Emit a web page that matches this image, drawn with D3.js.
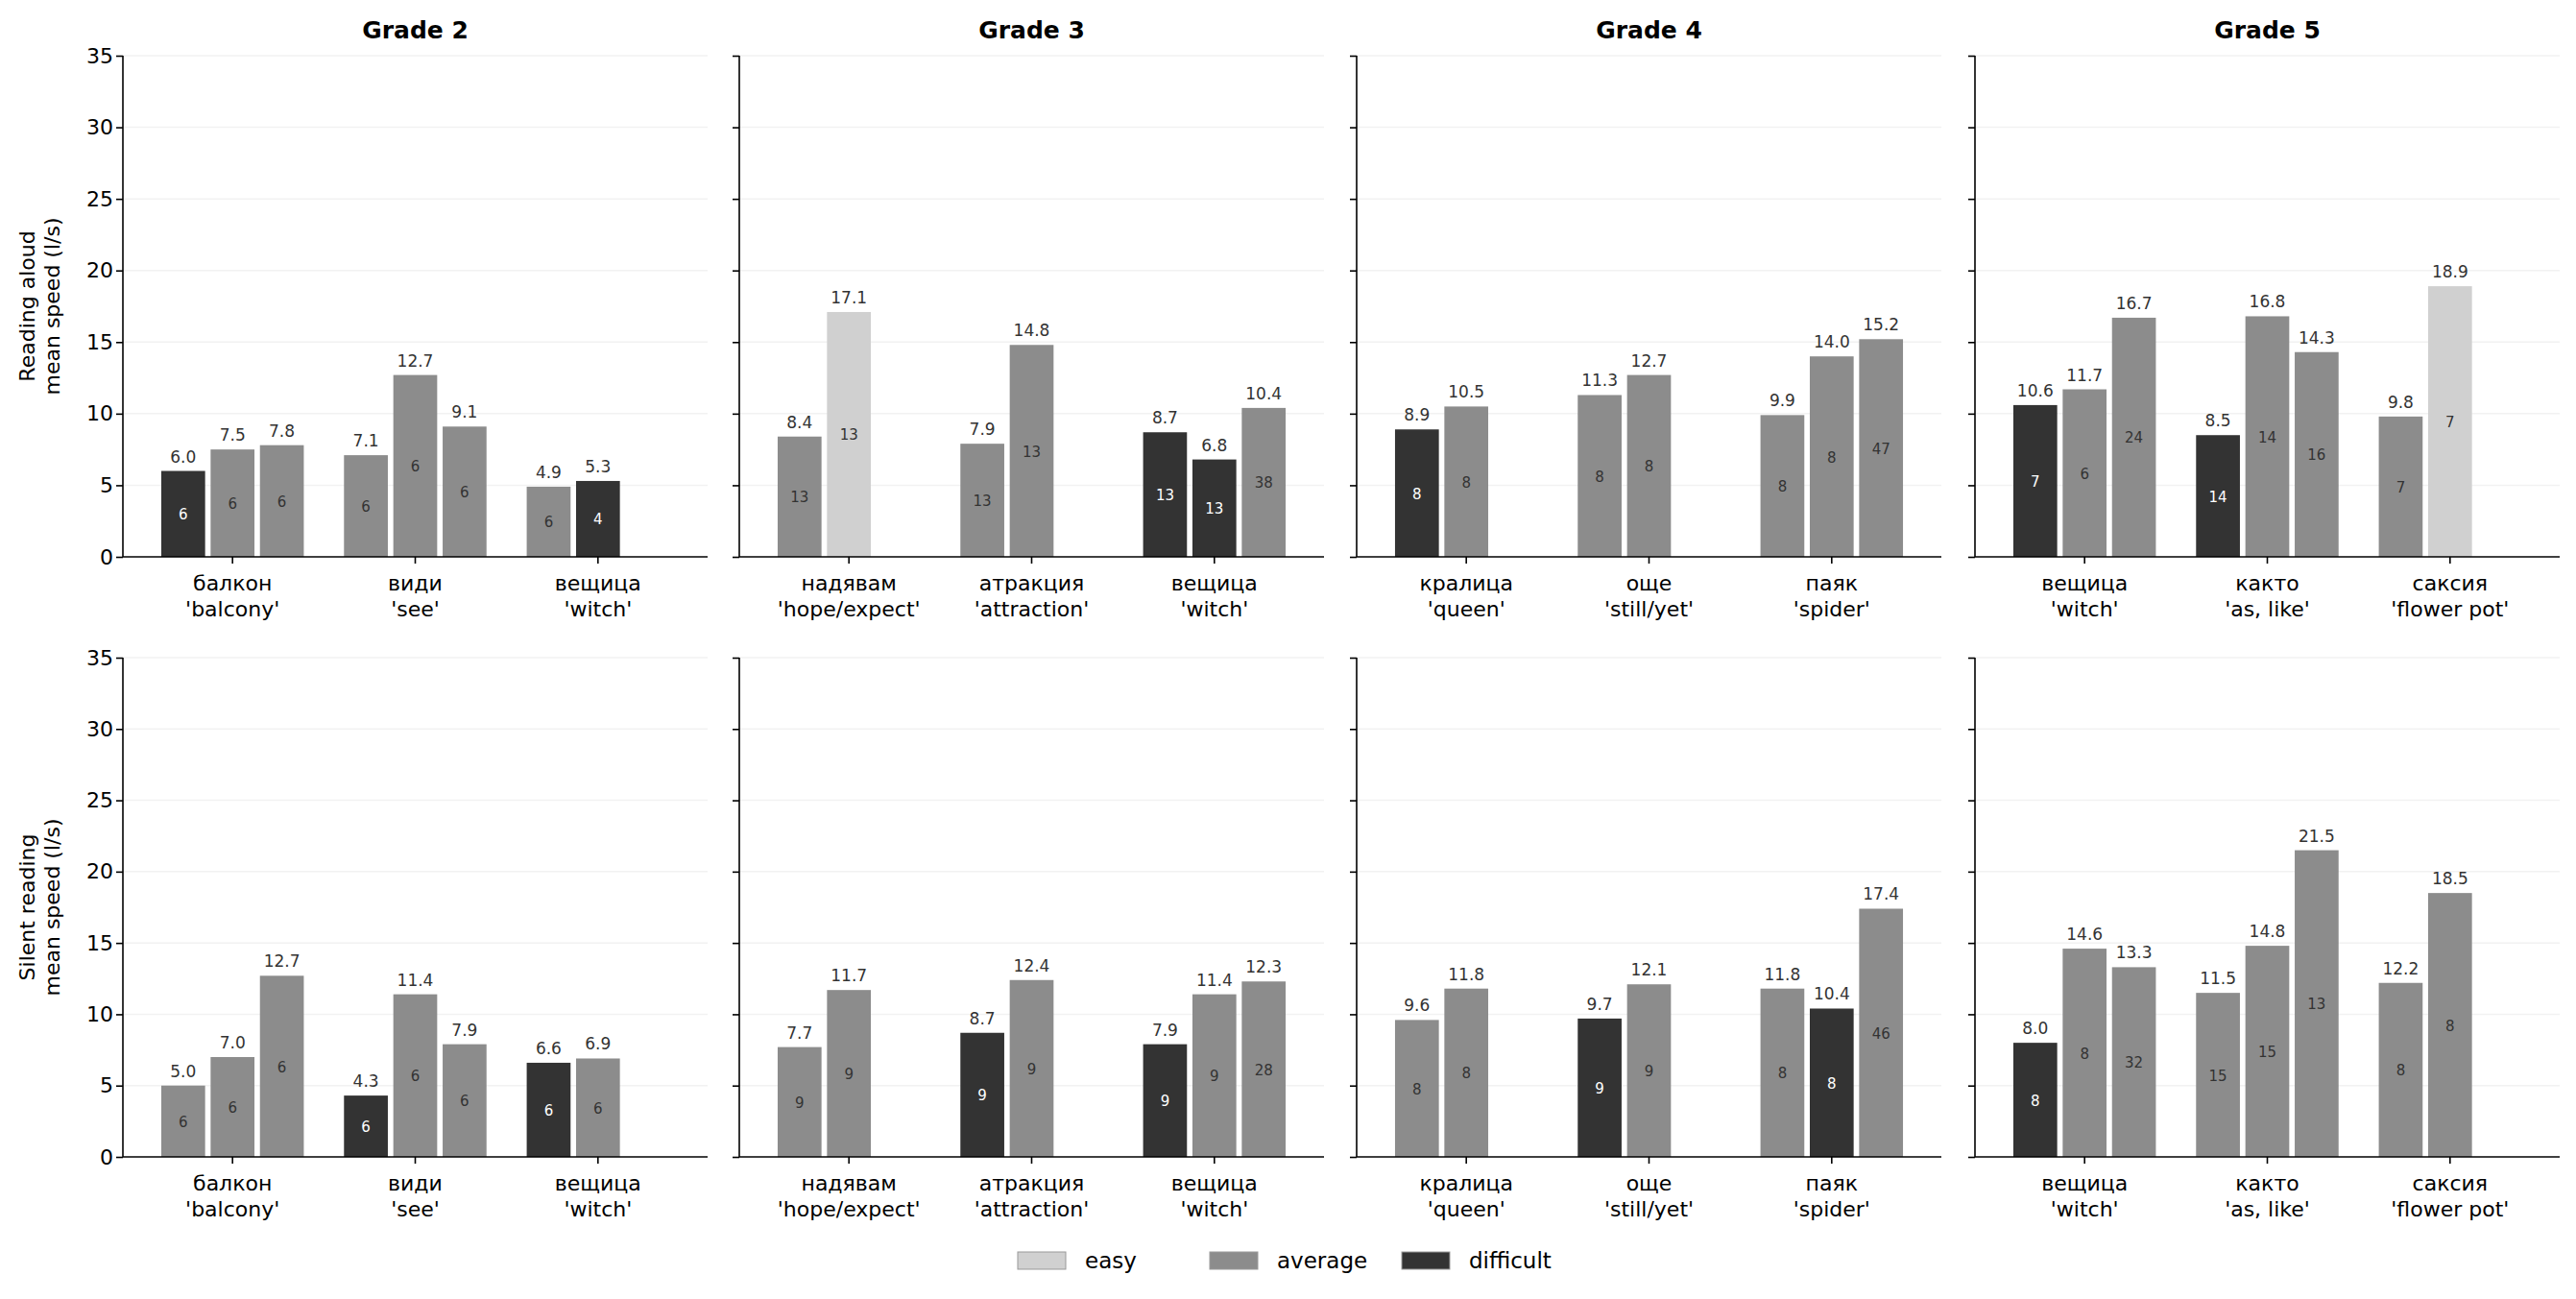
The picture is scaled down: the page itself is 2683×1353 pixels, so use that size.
<!DOCTYPE html>
<html><head><meta charset="utf-8">
<script src="https://cdn.jsdelivr.net/npm/d3@7"></script>
<style>body{margin:0;background:#fff;font-family:"DejaVu Sans",sans-serif;}</style>
</head><body><div id="chart"></div>
<script>
const grades = ["Grade 2", "Grade 3", "Grade 4", "Grade 5"];
const words = [
  ["балкон\n'balcony'", "види\n'see'", "вещица\n'witch'"],
  ["надявам\n'hope/expect'", "атракция\n'attraction'", "вещица\n'witch'"],
  ["кралица\n'queen'", "още\n'still/yet'", "паяк\n'spider'"],
  ["вещица\n'witch'", "както\n'as, like'", "саксия\n'flower pot'"]
];
const rowLabels = [["Reading aloud", "mean speed (l/s)"], ["Silent reading", "mean speed (l/s)"]];
const yTicks = [0, 5, 10, 15, 20, 25, 30, 35];
// [value, level, n] per bar; level: e=easy, a=average, d=difficult
const aloud = [
  [[[6.0,"d",6],[7.5,"a",6],[7.8,"a",6]], [[7.1,"a",6],[12.7,"a",6],[9.1,"a",6]], [[4.9,"a",6],[5.3,"d",4]]],
  [[[8.4,"a",13],[17.1,"e",13]], [[7.9,"a",13],[14.8,"a",13]], [[8.7,"d",13],[6.8,"d",13],[10.4,"a",38]]],
  [[[8.9,"d",8],[10.5,"a",8]], [[11.3,"a",8],[12.7,"a",8]], [[9.9,"a",8],[14.0,"a",8],[15.2,"a",47]]],
  [[[10.6,"d",7],[11.7,"a",6],[16.7,"a",24]], [[8.5,"d",14],[16.8,"a",14],[14.3,"a",16]], [[9.8,"a",7],[18.9,"e",7]]]
];
const silent = [
  [[[5.0,"a",6],[7.0,"a",6],[12.7,"a",6]], [[4.3,"d",6],[11.4,"a",6],[7.9,"a",6]], [[6.6,"d",6],[6.9,"a",6]]],
  [[[7.7,"a",9],[11.7,"a",9]], [[8.7,"d",9],[12.4,"a",9]], [[7.9,"d",9],[11.4,"a",9],[12.3,"a",28]]],
  [[[9.6,"a",8],[11.8,"a",8]], [[9.7,"d",9],[12.1,"a",9]], [[11.8,"a",8],[10.4,"d",8],[17.4,"a",46]]],
  [[[8.0,"d",8],[14.6,"a",8],[13.3,"a",32]], [[11.5,"a",15],[14.8,"a",15],[21.5,"a",13]], [[12.2,"a",8],[18.5,"a",8]]]
];
const levels = ["e", "a", "d"];
const levelNames = ["easy", "average", "difficult"];
const colors = {e: "#d0d0d0", a: "#8c8c8c", d: "#333333"};

const W = 2683, H = 1353;
const svg = d3.select("#chart").append("svg").attr("width", W).attr("height", H);
const panelX = [128, 770, 1413, 2057], panelW = 609;
const rowY = [[58, 580], [685, 1205]];
const y0 = d3.scaleLinear().domain([0, 35]);

[aloud, silent].forEach((rowData, r) => {
  const y = y0.copy().range([rowY[r][1], rowY[r][0]]);
  rowData.forEach((panel, c) => {
    const x = d3.scaleLinear().domain([-0.6, 2.6]).range([panelX[c], panelX[c] + panelW]);
    const g = svg.append("g");
    // faint grid
    g.selectAll(".grid").data(yTicks.slice(1)).enter().append("line")
      .attr("x1", x.range()[0]).attr("x2", x.range()[1])
      .attr("y1", d => y(d)).attr("y2", d => y(d))
      .style("stroke", "#f2f2f2").style("stroke-width", 1.5);
    const bw = x(0.24) - x(0);
    panel.forEach((bars, wi) => {
      bars.forEach((b, bi) => {
        const cx = x(wi + (bi - 1) * 0.27);
        g.append("rect").attr("x", cx - bw / 2).attr("y", y(b[0]))
          .attr("width", bw).attr("height", y(0) - y(b[0])).style("fill", colors[b[1]]);
        g.append("text").attr("x", cx).attr("y", y(b[0]) - 9).attr("text-anchor", "middle")
          .style("font-size", "17px").style("fill", "#333").text(b[0].toFixed(1));
        g.append("text").attr("x", cx).attr("y", (y(b[0]) + y(0)) / 2 + 6).attr("text-anchor", "middle")
          .style("font-size", "15px").style("fill", b[1] === "d" ? "#fff" : "#333").text(b[2]);
      });
    });
    // axes
    const ax = g.append("g").attr("transform", `translate(${x.range()[0]},0)`)
      .call(d3.axisLeft(y).tickValues(yTicks).tickSize(7).tickFormat(c === 0 ? d3.format("d") : ""));
    ax.selectAll("text").style("font-size", "22px").style("font-family", "DejaVu Sans").style("fill", "#000");
    ax.select(".domain").attr("d", `M-7,${y(35)}H0V${y(0)}`).remove();
    ax.append("line").attr("x1", 0).attr("x2", 0).attr("y1", y(35)).attr("y2", y(0)).style("stroke", "#000").style("stroke-width", 1.6);
    ax.selectAll(".tick line").style("stroke-width", 1.6);
    g.append("line").attr("x1", x.range()[0]).attr("x2", x.range()[1]).attr("y1", y(0)).attr("y2", y(0))
      .style("stroke", "#000").style("stroke-width", 1.6);
    words[c].forEach((w, wi) => {
      const t = g.append("text").attr("x", x(wi)).attr("y", y(0) + 35).attr("text-anchor", "middle")
        .style("font-size", "22px").style("fill", "#000");
      w.split("\n").forEach((s, k) => t.append("tspan").attr("x", x(wi)).attr("dy", k ? 27 : 0).text(s));
      g.append("line").attr("x1", x(wi)).attr("x2", x(wi)).attr("y1", y(0)).attr("y2", y(0) + 7).style("stroke", "#000").style("stroke-width", 1.6);
    });
    if (r === 0) {
      g.append("text").attr("x", x(1)).attr("y", 40).attr("text-anchor", "middle")
        .style("font-size", "25px").style("font-weight", "bold").text(grades[c]);
    }
    if (c === 0) {
      const cy = (rowY[r][0] + rowY[r][1]) / 2;
      const t = g.append("text").attr("transform", `translate(36,${cy}) rotate(-90)`).attr("text-anchor", "middle")
        .style("font-size", "22px");
      rowLabels[r].forEach((s, k) => t.append("tspan").attr("x", 0).attr("dy", k ? 26 : 0).text(s));
    }
  });
});

// legend
const lg = svg.append("g").attr("transform", "translate(1060,1313)");
levels.forEach((l, i) => {
  const ox = [0, 200, 400][i];
  lg.append("rect").attr("x", ox).attr("y", -9).attr("width", 50).attr("height", 18)
    .style("fill", colors[l]).style("stroke", "#999").style("stroke-width", 1);
  lg.append("text").attr("x", ox + 70).attr("y", 8).style("font-size", "23px").text(levelNames[l === "e" ? 0 : l === "a" ? 1 : 2]);
});
</script></body></html>
